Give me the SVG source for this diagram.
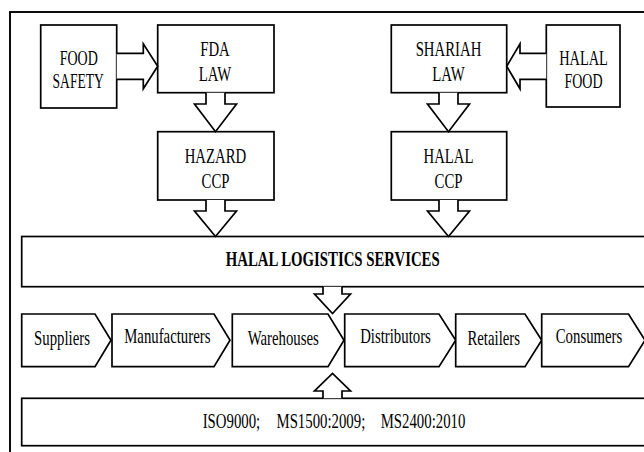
<svg xmlns="http://www.w3.org/2000/svg" width="644" height="452" viewBox="0 0 644 452">
<style>
.b{fill:#fff;stroke:#000;stroke-width:1.7}
.a{fill:#fff;stroke:#000;stroke-width:1.7;stroke-linejoin:miter}
.t{font-family:"Liberation Serif","Times New Roman",serif;font-size:20px;fill:#000;text-anchor:middle}
.s{text-anchor:start}
.hb{font-weight:bold}
</style>
<rect x="0" y="0" width="644" height="452" fill="#fff"/>
<rect id="frame" x="10" y="12" width="700" height="500" fill="none" stroke="#000" stroke-width="1.9"/>

<g id="food-safety">
<rect class="b" x="40.7" y="25" width="76" height="83"/>
<text class="t" font-family="Liberation Serif, serif" transform="matrix(0.7,0,0,1,78.7,64.5)">FOOD</text>
<text class="t" font-family="Liberation Serif, serif" transform="matrix(0.68,0,0,1,78.2,87.5)">SAFETY</text>
</g>
<g id="fda-law">
<rect class="b" x="157.7" y="25" width="116.3" height="67.7"/>
<text class="t" font-family="Liberation Serif, serif" transform="matrix(0.74,0,0,1,215,56)">FDA</text>
<text class="t" font-family="Liberation Serif, serif" transform="matrix(0.74,0,0,1,215,81)">LAW</text>
</g>
<g id="hazard-ccp">
<rect class="b" x="157.7" y="131.7" width="116.3" height="68.3"/>
<text class="t" font-family="Liberation Serif, serif" transform="matrix(0.74,0,0,1,215.5,163)">HAZARD</text>
<text class="t" font-family="Liberation Serif, serif" transform="matrix(0.74,0,0,1,215.5,188)">CCP</text>
</g>
<g id="shariah-law">
<rect class="b" x="391.3" y="25" width="115.4" height="67.7"/>
<text class="t" font-family="Liberation Serif, serif" transform="matrix(0.74,0,0,1,448.5,56)">SHARIAH</text>
<text class="t" font-family="Liberation Serif, serif" transform="matrix(0.74,0,0,1,448.5,81)">LAW</text>
</g>
<g id="halal-food">
<rect class="b" x="546.3" y="25" width="73.7" height="82"/>
<text class="t" font-family="Liberation Serif, serif" transform="matrix(0.72,0,0,1,583.5,64.5)">HALAL</text>
<text class="t" font-family="Liberation Serif, serif" transform="matrix(0.7,0,0,1,583.5,87.5)">FOOD</text>
</g>
<g id="halal-ccp">
<rect class="b" x="391.3" y="131.7" width="115.4" height="68.3"/>
<text class="t" font-family="Liberation Serif, serif" transform="matrix(0.74,0,0,1,448.5,163)">HALAL</text>
<text class="t" font-family="Liberation Serif, serif" transform="matrix(0.74,0,0,1,448.5,188)">CCP</text>
</g>
<g id="halal-logistics-services">
<rect class="b" x="21.7" y="236.5" width="700" height="50.2"/>
<text class="t hb" font-family="Liberation Serif, serif" transform="matrix(0.74,0,0,1,332.7,266)">HALAL LOGISTICS SERVICES</text>
</g>
<g id="standards">
<rect class="b" x="21.7" y="398.3" width="700" height="47.4"/>
<text class="t s" font-family="Liberation Serif, serif" transform="matrix(0.74,0,0,1,202.7,428)">ISO9000;</text>
<text class="t s" font-family="Liberation Serif, serif" transform="matrix(0.74,0,0,1,276.5,428)">MS1500:2009;</text>
<text class="t s" font-family="Liberation Serif, serif" transform="matrix(0.74,0,0,1,380.7,428)">MS2400:2010</text>
</g>

<g id="suppliers">
<path class="b" d="M21.7,314 L95,314 L111,340.3 L95,366.7 L21.7,366.7 Z"/>
<text class="t" font-family="Liberation Serif, serif" transform="matrix(0.74,0,0,1,62,345)">Suppliers</text>
</g>
<g id="manufacturers">
<path class="b" d="M112,314 L214,314 L230,340.3 L214,366.7 L112,366.7 Z"/>
<text class="t" font-family="Liberation Serif, serif" transform="matrix(0.74,0,0,1,167.3,343)">Manufacturers</text>
</g>
<g id="warehouses">
<path class="b" d="M232.3,314 L328,314 L344,340.3 L328,366.7 L232.3,366.7 Z"/>
<text class="t" font-family="Liberation Serif, serif" transform="matrix(0.74,0,0,1,283.3,345)">Warehouses</text>
</g>
<g id="distributors">
<path class="b" d="M344.7,314 L439,314 L455.7,340.3 L439,366.7 L344.7,366.7 Z"/>
<text class="t" font-family="Liberation Serif, serif" transform="matrix(0.74,0,0,1,395.5,343)">Distributors</text>
</g>
<g id="retailers">
<path class="b" d="M455.7,314 L525,314 L541.7,340.3 L525,366.7 L455.7,366.7 Z"/>
<text class="t" font-family="Liberation Serif, serif" transform="matrix(0.74,0,0,1,493.7,345)">Retailers</text>
</g>
<g id="consumers">
<path class="b" d="M541.7,314 L628.5,314 L645,340.3 L628.5,366.7 L541.7,366.7 Z"/>
<text class="t" font-family="Liberation Serif, serif" transform="matrix(0.74,0,0,1,589,343)">Consumers</text>
</g>

<g id="connectors">
<polyline class="a" points="116.7,53.3 143.3,53.3 143.3,43.8 157.7,66.3 143.3,88.8 143.3,79.3 116.7,79.3"/>
<polyline class="a" points="546.3,53.3 520,53.3 520,43.8 506.7,66.3 520,88.8 520,79.3 546.3,79.3"/>
<polyline class="a" points="206,92.7 206,104 194.5,104 215.5,131.7 236.5,104 225,104 225,92.7"/>
<polyline class="a" points="206,200 206,211 194.5,211 215.5,236.5 236.5,211 225,211 225,200"/>
<polyline class="a" points="439,92.7 439,104 427.5,104 448.5,131.7 469.5,104 458,104 458,92.7"/>
<polyline class="a" points="439,200 439,211 427.5,211 448.5,236.5 469.5,211 458,211 458,200"/>
<polyline class="a" points="323,286.7 323,294 314.5,294 332.5,313.5 350.5,294 342,294 342,286.7"/>
<polyline class="a" points="323,398.3 323,391 314.5,391 332.5,373.5 350.5,391 342,391 342,398.3"/>
</g>
</svg>
